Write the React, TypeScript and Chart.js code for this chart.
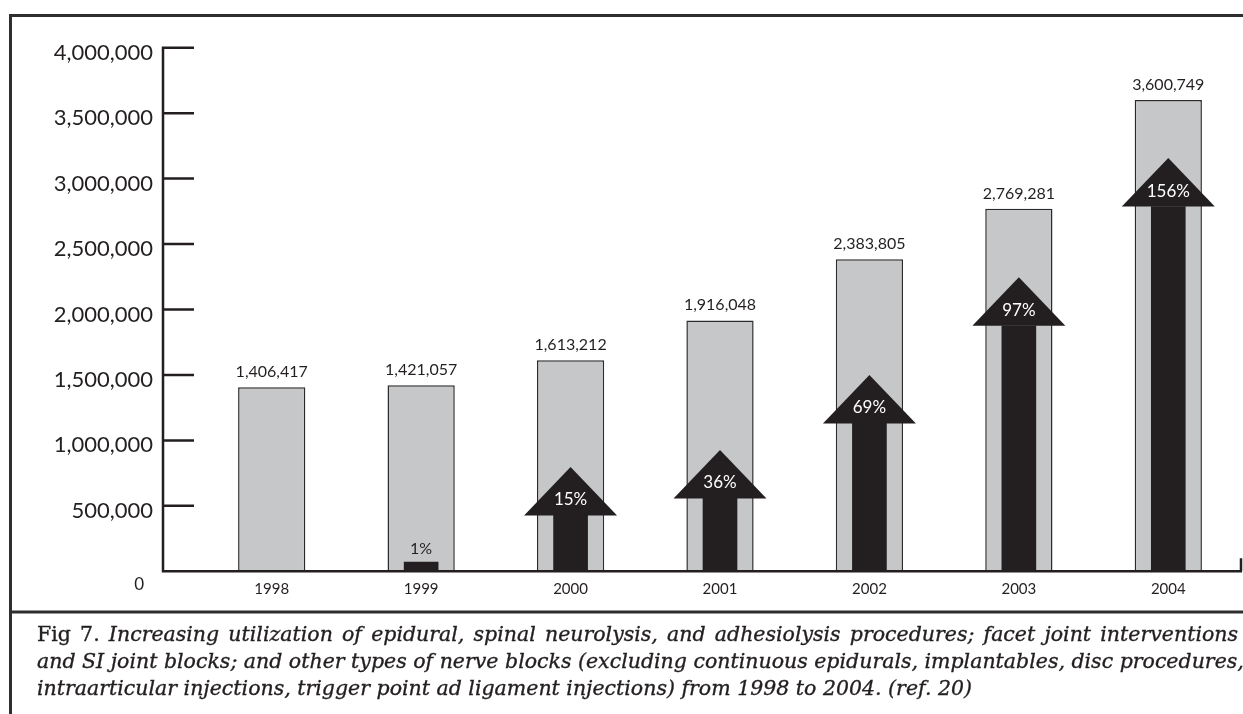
import React, { useEffect, useRef } from "react";
import { Chart, registerables } from "chart.js";

Chart.register(...registerables);

// Procedures per year
const years = ["1998", "1999", "2000", "2001", "2002", "2003", "2004"];
const procedures = [1406417, 1421057, 1613212, 1916048, 2383805, 2769281, 3600749];

// Growth over 1998, shown on the black arrows
const growthLabels = [null, "1%", "15%", "36%", "69%", "97%", "156%"];
// Top of each arrow shaft on the procedure scale
const arrowShaft = [null, 70000, 427000, 557000, 1130000, 1875000, 2786000];
const arrowHasHead = [false, false, true, true, true, true, true];

// Y axis ticks
const yTicks = [0, 500000, 1000000, 1500000, 2000000, 2500000, 3000000, 3500000, 4000000];

const INK = "#231f20";
const SANS = "Lato, 'Open Sans', sans-serif";
const fmt = (v: number) => v.toLocaleString("en-US");

const decorPlugin = {
  id: "decor",
  beforeDraw(chart: any) {
    const { ctx, width, height } = chart;
    ctx.save();
    ctx.fillStyle = "#ffffff";
    ctx.fillRect(0, 0, width, height);
    ctx.strokeStyle = "#2e2e2e";
    ctx.lineWidth = 3;
    ctx.beginPath();
    ctx.moveTo(9, 15.5);
    ctx.lineTo(width, 15.5);
    ctx.moveTo(10.5, 14);
    ctx.lineTo(10.5, height);
    ctx.moveTo(9, 612);
    ctx.lineTo(width, 612);
    ctx.stroke();
    ctx.restore();
  },
  afterDatasetsDraw(chart: any) {
    const { ctx, chartArea } = chart;
    const y = chart.scales.y;
    const x = chart.scales.x;
    const y0 = y.getPixelForValue(0);
    const axisX = chartArea.left - 34;
    ctx.save();

    // arrow heads and growth labels
    const shafts = chart.getDatasetMeta(0).data;
    shafts.forEach((el: any, i: number) => {
      if (arrowShaft[i] == null) return;
      const cx = el.x;
      const top = el.y;
      if (arrowHasHead[i]) {
        ctx.fillStyle = INK;
        ctx.beginPath();
        ctx.moveTo(cx - 46.5, top);
        ctx.lineTo(cx + 46.5, top);
        ctx.lineTo(cx, top - 48.5);
        ctx.closePath();
        ctx.fill();
        ctx.fillStyle = "#ffffff";
        ctx.font = `17px ${SANS}`;
        ctx.textAlign = "center";
        ctx.textBaseline = "alphabetic";
        ctx.fillText(growthLabels[i] as string, cx, top - 10);
      } else {
        ctx.fillStyle = INK;
        ctx.font = `16px ${SANS}`;
        ctx.textAlign = "center";
        ctx.textBaseline = "alphabetic";
        ctx.fillText(growthLabels[i] as string, cx, top - 8);
      }
    });

    // value labels above the grey bars
    const bars = chart.getDatasetMeta(1).data;
    ctx.fillStyle = INK;
    ctx.font = `16px ${SANS}`;
    ctx.textAlign = "center";
    ctx.textBaseline = "alphabetic";
    bars.forEach((el: any, i: number) => {
      ctx.fillText(fmt(procedures[i]), el.x, el.y - 10);
    });

    // axes
    ctx.strokeStyle = INK;
    ctx.lineWidth = 2.5;
    ctx.beginPath();
    ctx.moveTo(axisX, y.getPixelForValue(4000000) - 1.2);
    ctx.lineTo(axisX, y0);
    ctx.moveTo(axisX - 1.2, y0);
    ctx.lineTo(1242, y0);
    ctx.moveTo(1241, y0);
    ctx.lineTo(1241, y0 - 13);
    yTicks.forEach((t) => {
      if (t === 0) return;
      const py = y.getPixelForValue(t);
      ctx.moveTo(axisX, py);
      ctx.lineTo(axisX + 31, py);
    });
    ctx.stroke();

    // y tick labels
    ctx.fillStyle = INK;
    ctx.font = `22px ${SANS}`;
    ctx.textAlign = "right";
    yTicks.forEach((t) => {
      const py = y.getPixelForValue(t);
      if (t === 0) {
        ctx.font = `17px ${SANS}`;
        ctx.fillText("0", axisX - 19, py + 18.5);
        ctx.font = `22px ${SANS}`;
      } else {
        ctx.fillText(fmt(t), axisX - 10, py + 12);
      }
    });

    // category labels
    ctx.font = `15px ${SANS}`;
    ctx.textAlign = "center";
    years.forEach((yr, i) => {
      ctx.fillText(yr, x.getPixelForValue(i), y0 + 23);
    });
    ctx.restore();
  },
};

function ProceduresChart() {
  const ref = useRef<HTMLCanvasElement | null>(null);
  useEffect(() => {
    if (!ref.current) return;
    const chart = new Chart(ref.current, {
      type: "bar",
      data: {
        labels: years,
        datasets: [
          {
            label: "Growth",
            data: arrowShaft,
            backgroundColor: INK,
            borderWidth: 0,
            barThickness: 34,
            grouped: false,
            order: 0,
          } as any,
          {
            label: "Procedures",
            data: procedures,
            backgroundColor: "#c6c7c9",
            borderColor: "#2b2b2b",
            borderWidth: 1.5,
            barPercentage: 0.45,
            categoryPercentage: 1,
            grouped: false,
            order: 1,
          } as any,
        ],
      },
      options: {
        responsive: false,
        animation: false,
        devicePixelRatio: 1,
        layout: { padding: { left: 197, right: 0, top: 47.7, bottom: 142.7 } },
        plugins: { legend: { display: false }, tooltip: { enabled: false } },
        scales: {
          x: { display: false, offset: true },
          y: { display: false, min: 0, max: 4000000 },
        },
      },
      plugins: [decorPlugin],
    });
    return () => chart.destroy();
  }, []);
  return <canvas ref={ref} width={1243} height={714} style={{ position: "absolute", left: 0, top: 0 }} />;
}

const lineStyle: React.CSSProperties = {
  textAlign: "justify",
  textAlignLast: "justify" as any,
  whiteSpace: "nowrap",
};

export default function App() {
  return (
    <div
      style={{
        position: "fixed",
        left: 0,
        top: 0,
        width: 1243,
        height: 714,
        background: "#fff",
        overflow: "hidden",
      }}
    >
      <ProceduresChart />
      <div
        style={{
          position: "absolute",
          left: 37,
          top: 621.3,
          width: 1201,
          fontFamily: "'DejaVu Serif', 'Liberation Serif', serif",
          fontSize: 20.5,
          lineHeight: "26.7px",
          color: INK,
          WebkitTextStroke: `0.35px ${INK}`,
        }}
      >
        <div style={lineStyle}>
          <span>Fig 7. </span>
          <i>
            Increasing utilization of epidural, spinal neurolysis, and adhesiolysis procedures; facet joint interventions
          </i>
        </div>
        <div style={lineStyle}>
          <i>
            and SI joint blocks; and other types of nerve blocks (excluding continuous epidurals, implantables, disc procedures,
          </i>
        </div>
        <div style={{ whiteSpace: "nowrap" }}>
          <i>intraarticular injections, trigger point ad ligament injections) from 1998 to 2004. (ref. 20)</i>
        </div>
      </div>
    </div>
  );
}
